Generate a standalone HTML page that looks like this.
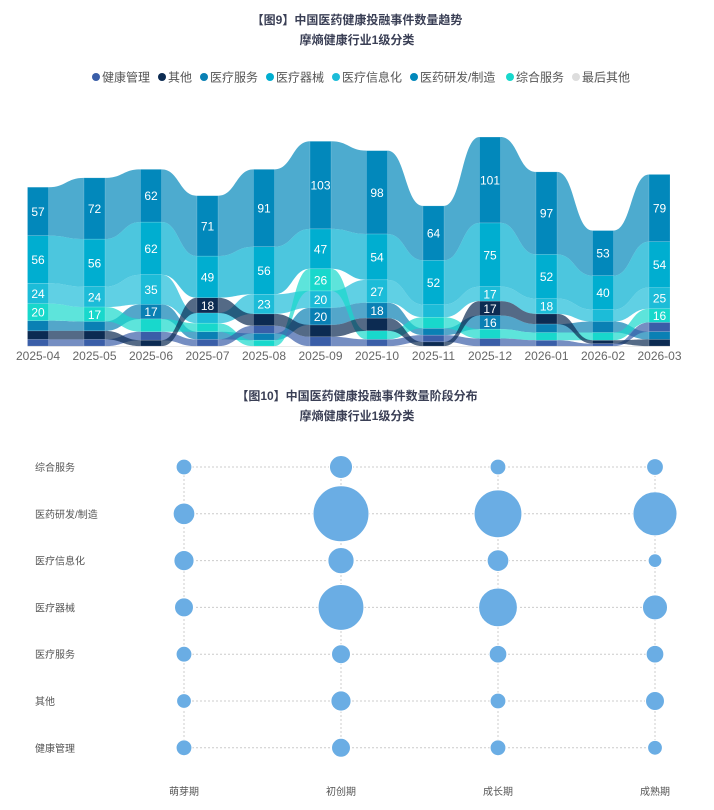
<!DOCTYPE html>
<html><head><meta charset="utf-8">
<style>
body{margin:0;background:#fff;font-family:"Liberation Sans","Noto Sans CJK SC",sans-serif;}
#wrap{position:relative;width:714px;height:810px;overflow:hidden;}
.t{position:absolute;left:0;width:714px;text-align:center;font-weight:bold;font-size:12px;color:#3a3f55;}
</style></head>
<body>
<div id="wrap">
<div class="t" style="top:11px">【图9】中国医药健康投融事件数量趋势</div>
<div class="t" style="top:31px">摩熵健康行业1级分类</div>
<div class="t" style="top:387px">【图10】中国医药健康投融事件数量阶段分布</div>
<div class="t" style="top:407px">摩熵健康行业1级分类</div>
<svg id="s1" width="714" height="380" style="position:absolute;left:0;top:0"></svg>
<svg id="s2" width="714" height="400" style="position:absolute;left:0;top:420px"></svg>
</div>
<script>
const NS='http://www.w3.org/2000/svg';
const months=['2025-04','2025-05','2025-06','2025-07','2025-08','2025-09','2025-10','2025-11','2025-12','2026-01','2026-02','2026-03'];
const cats=['健康管理','其他','医疗服务','医疗器械','医疗信息化','医药研发/制造','综合服务','最后其他'];
const colors=['#3a5ea8','#0c2b52','#0a80b4','#00aed0','#1cbcd8','#0288bb','#18d8cc','#dddddd'];
const vHealth=[8,8,10,8,9,11,8,8,9,7,3,11];
const vOther=[10,10,7,18,14,14,15,5,17,12,4,8];
const vService=[12,11,17,9,8,20,18,8,16,10,13,9];
const vDevice=[56,56,62,49,56,47,54,52,75,52,40,54];
const vInfo=[24,24,35,12,23,20,27,15,17,18,14,25];
const vPharma=[57,72,62,71,91,103,98,64,101,97,53,79];
const vGeneral=[20,17,15,10,7,26,10,13,11,9,9,16];
const vLast=[1,1,1,1,1,1,1,1,1,1,1,1];
const series=[vHealth,vOther,vService,vDevice,vInfo,vPharma,vGeneral,vLast];

const s1=document.getElementById('s1');
function mk(tag,attrs,parent){const e=document.createElementNS(NS,tag);for(const k in attrs)e.setAttribute(k,attrs[k]);(parent||s1).appendChild(e);return e;}
let lx=92;
cats.forEach((c,i)=>{
  const g=mk('g',{});
  
  
  mk('circle',{cx:lx+4,cy:77,r:4,fill:colors[i]},g);
  const t=mk('text',{x:lx+10,y:81.5,'font-size':12,fill:'#555'},g);
  t.textContent=c;
  lx+=10+c.length*12+(c.includes('/')?-6:0)+8;
});
const baseY=347,k=0.85,x0=38,step=56.5,bw=21;
const xOf=i=>x0+i*step;
const yOf=v=>baseY-v*k;
const pos=months.map((m,i)=>{
  const idx=cats.map((c,j)=>j).filter(j=>j!==7);
  idx.sort((a,b)=>series[a][i]-series[b][i]);
  const order=[7].concat(idx);
  const p={};let acc=0;
  order.forEach(j=>{p[j]=[acc,acc+series[j][i]];acc+=series[j][i];});
  return p;
});
const drawOrder=[5,3,4,2,6,0,1,7];
for(let i=0;i<months.length-1;i++){
  drawOrder.forEach(j=>{
    const a=pos[i][j],b=pos[i+1][j];
    const xa=xOf(i)+bw/2,xb=xOf(i+1)-bw/2,xm=(xa+xb)/2;
    const ya0=yOf(a[1]),ya1=yOf(a[0]),yb0=yOf(b[1]),yb1=yOf(b[0]);
    const d=`M${xa},${ya0} C${xm},${ya0} ${xm},${yb0} ${xb},${yb0} L${xb},${yb1} C${xm},${yb1} ${xm},${ya1} ${xa},${ya1} Z`;
    const r=mk('path',{d:d,fill:colors[j],'fill-opacity':0.7});
    
    
  });
}
months.forEach((m,i)=>{
  for(let j=0;j<cats.length;j++){
    const a=pos[i][j];
    const r=mk('rect',{x:xOf(i)-bw/2,y:yOf(a[1]),width:bw,height:(a[1]-a[0])*k,fill:colors[j],stroke:'rgba(255,255,255,0.3)','stroke-width':0.5});
    
    
    const v=series[j][i];
    if(v>=16){
      const t=mk('text',{x:xOf(i),y:(yOf(a[1])+yOf(a[0]))/2+4.5,'font-size':12,fill:'#fff','text-anchor':'middle'});
      
      
      t.textContent=v;
    }
  }
  const t=mk('text',{x:xOf(i),y:360,'font-size':12,fill:'#666','text-anchor':'middle'});
  
  
  t.textContent=m;
});

const stages=['萌芽期','初创期','成长期','成熟期'];
const rows=['综合服务','医药研发/制造','医疗信息化','医疗器械','医疗服务','其他','健康管理'];
const bGeneral=[8,17,8,9];
const bPharma=[15,100,73,62];
const bInfo=[13,22,15,6];
const bDevice=[11.5,67,48,20];
const bService=[8,11.5,10,10];
const bOther=[7,13,8,11.5];
const bHealth=[8,11.5,8,7];
const bSeries=[bGeneral,bPharma,bInfo,bDevice,bService,bOther,bHealth];
const s2=document.getElementById('s2');
function mk2(tag,attrs){const e=document.createElementNS(NS,tag);for(const k in attrs)e.setAttribute(k,attrs[k]);s2.appendChild(e);return e;}
const bx=i=>184+i*157, by=j=>47+j*46.8;
rows.forEach((r,j)=>{
  const l=mk2('line',{x1:bx(0),x2:bx(3),y1:by(j),y2:by(j),stroke:'#ccc','stroke-dasharray':'2,2'});
  
  
  const t=mk2('text',{x:35,y:by(j)+4,'font-size':10,fill:'#555'});
  
  
  t.textContent=r;
});
stages.forEach((s,i)=>{
  const l=mk2('line',{x1:bx(i),x2:bx(i),y1:by(0),y2:by(6),stroke:'#ccc','stroke-dasharray':'2,2'});
  
  
  const t=mk2('text',{x:bx(i),y:375,'font-size':10,fill:'#555','text-anchor':'middle'});
  
  
  t.textContent=s;
});
bSeries.forEach((arr,j)=>{
  arr.forEach((v,i)=>{
    const c=mk2('circle',{cx:bx(i),cy:by(j),r:2.8*Math.sqrt(v),fill:'#6aade4',stroke:'#fff','stroke-width':1});
    
    
  });
});
</script>
</body></html>
